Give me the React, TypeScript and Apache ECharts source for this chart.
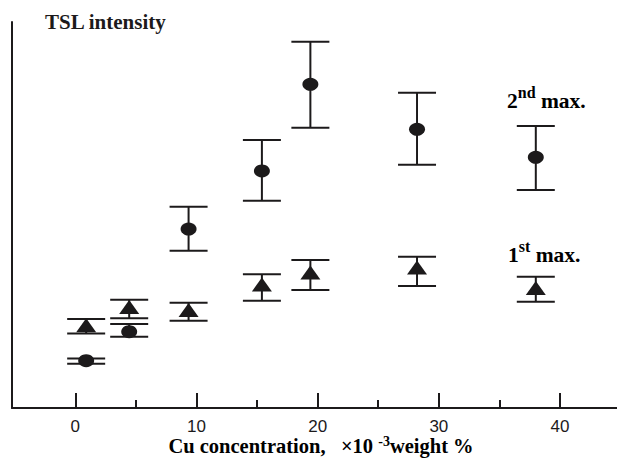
import React, { useEffect, useRef } from "react";
import * as echarts from "echarts";

// Cu concentration (x10^-3 weight %)
const concentration = [0.9, 4.45, 9.35, 15.4, 19.4, 28.2, 38.0];
// 2nd maximum (circles), arbitrary units
const secondMax = [12.25, 19.77, 46.37, 61.4, 83.86, 72.2, 64.95];
const secondMaxLow = [11.45, 18.47, 40.75, 53.7, 72.62, 63.03, 56.48];
const secondMaxHigh = [12.8, 21.76, 52.15, 69.43, 94.9, 81.68, 73.06];
// 1st maximum (triangles), arbitrary units
const firstMax = [21.42, 26.17, 25.39, 32.0, 35.1, 36.4, 31.09];
const firstMaxLow = [19.3, 23.24, 22.62, 27.8, 30.57, 31.61, 27.54];
const firstMaxHigh = [23.06, 28.06, 27.28, 34.64, 38.34, 39.2, 34.02];
// axis ticks
const xTicks = [0, 10, 20, 30, 40];
const xMinorTicks = [5, 15, 25, 35];

const INK = "#1c1a1b";
const SERIF = "Liberation Serif";
const SANS = "Liberation Sans";

function errorBarSeries(low: number[], high: number[]) {
  return {
    type: "custom",
    xAxisIndex: 0,
    yAxisIndex: 0,
    silent: true,
    encode: { x: 0, y: [1, 2] },
    data: concentration.map((c, i) => [c, low[i], high[i]]),
    renderItem: (_params: any, api: any) => {
      const x = api.value(0);
      const pLo = api.coord([x, api.value(1)]);
      const pHi = api.coord([x, api.value(2)]);
      const hw = 19;
      const style = { stroke: INK, lineWidth: 2, fill: "none" };
      return {
        type: "group",
        children: [
          { type: "line", shape: { x1: pLo[0], y1: pLo[1], x2: pHi[0], y2: pHi[1] }, style },
          { type: "line", shape: { x1: pHi[0] - hw, y1: pHi[1], x2: pHi[0] + hw, y2: pHi[1] }, style },
          { type: "line", shape: { x1: pLo[0] - hw, y1: pLo[1], x2: pLo[0] + hw, y2: pLo[1] }, style },
        ],
      };
    },
  };
}

export default function App() {
  const ref = useRef<HTMLDivElement>(null);
  useEffect(() => {
    if (!ref.current) return;
    const chart = echarts.init(ref.current, null, { renderer: "svg" });
    const supRich = {
      a: { fontSize: 21.5, fontWeight: "bold", fontFamily: SERIF, color: INK, verticalAlign: "bottom", lineHeight: 28 },
      s: { fontSize: 16, fontWeight: "bold", fontFamily: SERIF, color: INK, verticalAlign: "top" },
    };
    chart.setOption({
      animation: false,
      backgroundColor: "#ffffff",
      grid: { left: 12, right: 0, top: 22, bottom: 58, containLabel: false, outerBoundsMode: "none" },
      xAxis: [
        {
          type: "value",
          position: "bottom",
          min: -5.22,
          max: 44.7,
          axisLine: { show: true, onZero: false, lineStyle: { color: INK, width: 2 } },
          axisTick: { show: true, inside: true, length: 15, customValues: xTicks, lineStyle: { color: INK, width: 2 } },
          axisLabel: {
            show: true,
            customValues: xTicks,
            fontSize: 17,
            lineHeight: 14,
            fontFamily: SANS,
            color: INK,
            margin: 11,
          },
          splitLine: { show: false },
        },
        {
          type: "value",
          position: "bottom",
          min: -5.22,
          max: 44.7,
          axisLine: { show: false, onZero: false },
          axisTick: { show: true, inside: true, length: 8, customValues: xMinorTicks, lineStyle: { color: INK, width: 2 } },
          axisLabel: { show: false },
          splitLine: { show: false },
        },
      ],
      yAxis: {
        type: "value",
        min: 0,
        max: 100,
        axisLine: { show: true, onZero: false, lineStyle: { color: INK, width: 2 } },
        axisTick: { show: false },
        axisLabel: { show: false },
        splitLine: { show: false },
      },
      graphic: [
        {
          type: "text",
          x: 45,
          y: 22.4,
          style: {
            text: "TSL intensity",
            fontSize: 21,
            fontWeight: "bold",
            fontFamily: SERIF,
            fill: INK,
            align: "left",
            verticalAlign: "middle",
          },
        },
        {
          type: "text",
          x: 507,
          y: 98.2,
          style: { text: "{a|2}{s|nd}{a| max.}", rich: supRich, align: "left", verticalAlign: "middle" },
        },
        {
          type: "text",
          x: 508,
          y: 252.2,
          style: { text: "{a|1}{s|st}{a| max.}", rich: supRich, align: "left", verticalAlign: "middle" },
        },
        {
          type: "text",
          x: 321,
          y: 443.5,
          style: {
            text: "{a|Cu concentration,   \u00d710 }{s|-3}{a|weight %}",
            align: "center",
            verticalAlign: "middle",
            rich: {
              a: {
                fontSize: 20.5,
                fontWeight: "bold",
                fontFamily: SERIF,
                color: INK,
                verticalAlign: "bottom",
                height: 14,
                lineHeight: 18,
              },
              s: { fontSize: 14, fontWeight: "bold", fontFamily: SERIF, color: INK, verticalAlign: "top", height: 14 },
            },
          },
        },
      ],
      series: [
        errorBarSeries(secondMaxLow, secondMaxHigh),
        errorBarSeries(firstMaxLow, firstMaxHigh),
        {
          name: "2nd max.",
          type: "scatter",
          symbol: "circle",
          symbolSize: [16, 13],
          itemStyle: { color: INK, opacity: 1 },
          data: concentration.map((c, i) => [c, secondMax[i]]),
          z: 3,
        },
        {
          name: "1st max.",
          type: "scatter",
          symbol: "triangle",
          symbolSize: [20, 14],
          itemStyle: { color: INK, opacity: 1 },
          data: concentration.map((c, i) => [c, firstMax[i]]),
          z: 3,
        },
      ],
    });
    return () => chart.dispose();
  }, []);
  return (
    <div
      ref={ref}
      style={{ position: "absolute", left: 0, top: 0, width: 617, height: 466 }}
    />
  );
}
